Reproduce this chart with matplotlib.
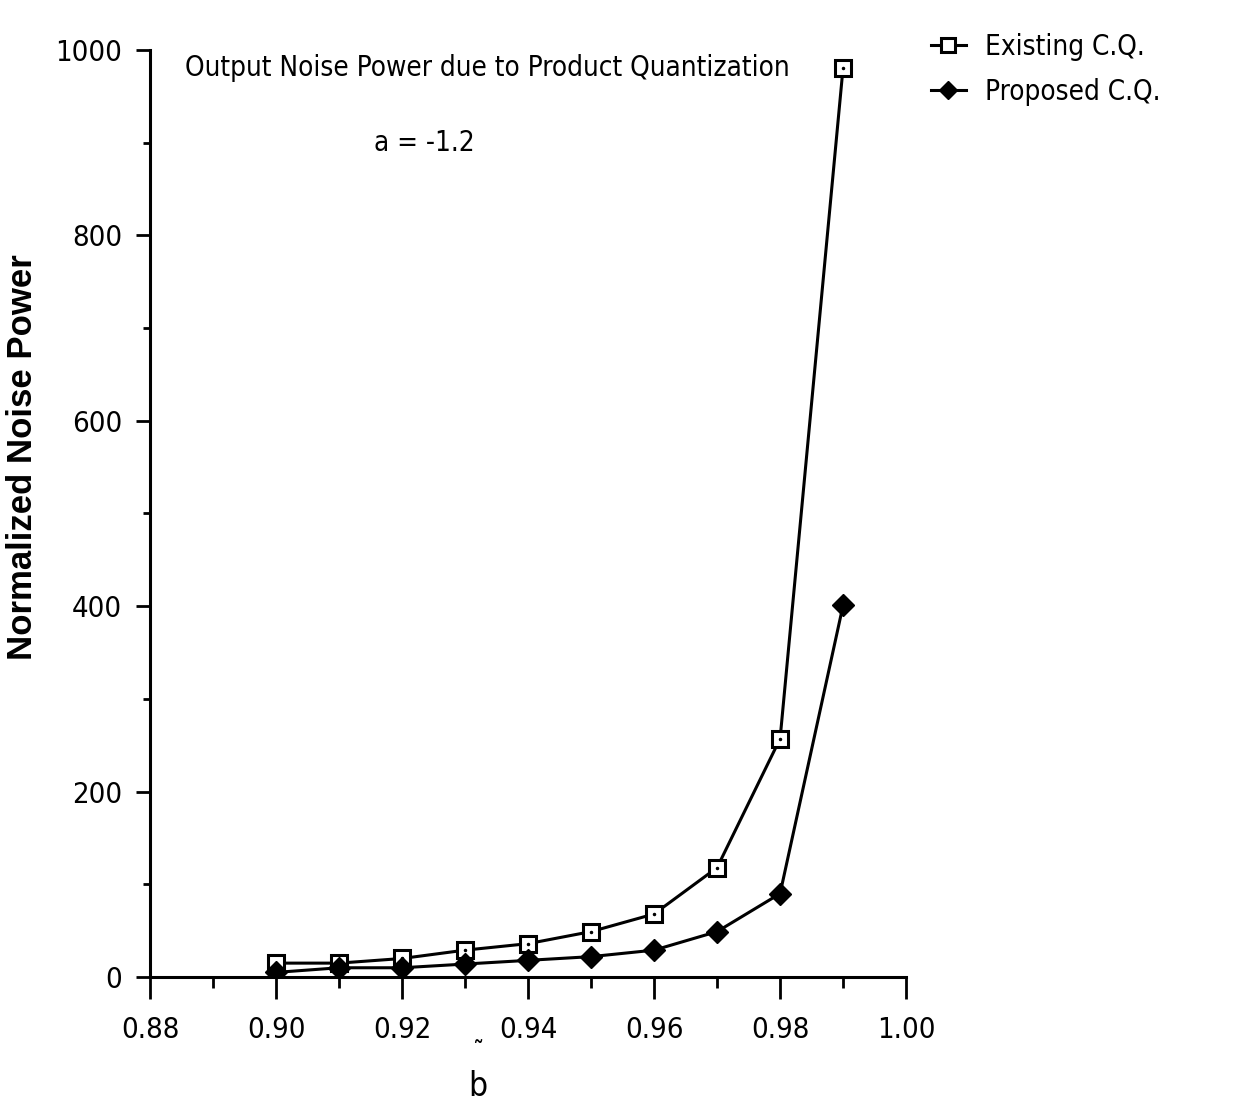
#!/usr/bin/env python3

from matplotlib import pyplot as plt
from matplotlib.font_manager import FontProperties
from matplotlib.ticker import MultipleLocator, FormatStrFormatter

b_values = [0.90, 0.91, 0.92, 0.93, 0.94, 0.95, 0.96, 0.97, 0.98, 0.99]
existing_cq = [15, 15, 20, 29, 36, 49, 68, 118, 257, 981]
proposed_cq = [5, 10, 10, 14, 18, 22, 29, 49, 90, 401]

plt.rcParams['font.family'] = ['DejaVu Sans']
plt.rcParams['font.stretch'] = 'condensed'


def main():
    fig = plt.figure(figsize=(12.38, 11.09), dpi=100)
    ax = fig.add_axes([0.1212, 0.119, 0.6107, 0.836])

    ax.plot(b_values, existing_cq, color="black", lw=2.2, marker="s", ms=12,
            mfc="white", mec="black", mew=2.2, label="Existing C.Q.")
    ax.plot(b_values, existing_cq, ls="none", marker=".", ms=3, color="black")
    ax.plot(b_values, proposed_cq, color="black", lw=2.2, marker="D", ms=11,
            mfc="black", mec="black", label="Proposed C.Q.")

    ax.set_xlim(0.88, 1.00)
    ax.set_ylim(0, 1000)
    ax.xaxis.set_major_locator(MultipleLocator(0.02))
    ax.xaxis.set_minor_locator(MultipleLocator(0.01))
    ax.xaxis.set_major_formatter(FormatStrFormatter("%.2f"))
    ax.yaxis.set_major_locator(MultipleLocator(200))
    ax.yaxis.set_minor_locator(MultipleLocator(100))

    for side in ("top", "right"):
        ax.spines[side].set_visible(False)
    for side in ("left", "bottom"):
        ax.spines[side].set_linewidth(2.2)

    ax.tick_params(axis="both", which="major", direction="out", width=2, labelsize=21)
    ax.tick_params(axis="x", which="major", length=16, pad=12)
    ax.tick_params(axis="x", which="minor", length=8, width=2)
    ax.tick_params(axis="y", which="major", length=10, pad=10)
    ax.tick_params(axis="y", which="minor", length=5, width=2)

    ylab_font = FontProperties(family=["Liberation Sans", "Arimo"], weight="bold",
                               stretch="normal", size=25)
    ax.set_ylabel("Normalized Noise Power", fontproperties=ylab_font)
    ax.yaxis.set_label_coords(-0.147, 0.561)
    ax.set_xlabel("b", fontsize=24)
    ax.xaxis.set_label_coords(0.433, -0.100)
    fig.text(0.387, 0.051, "\u02dc", fontsize=18, ha="center", va="center")

    ax.text(0.9336, 980, "Output Noise Power due to Product Quantization",
            fontsize=20, ha="center", va="center")
    ax.text(0.9235, 900, "a = -1.2", fontsize=20, ha="center", va="center")

    ax.legend(loc="upper left", bbox_to_anchor=(1.000, 1.045), frameon=False,
              fontsize=20, handlelength=1.25, handletextpad=0.7, labelspacing=0.6,
              markerscale=0.8)

    fig.savefig("out.png", dpi=100)


if __name__ == "__main__":
    main()
